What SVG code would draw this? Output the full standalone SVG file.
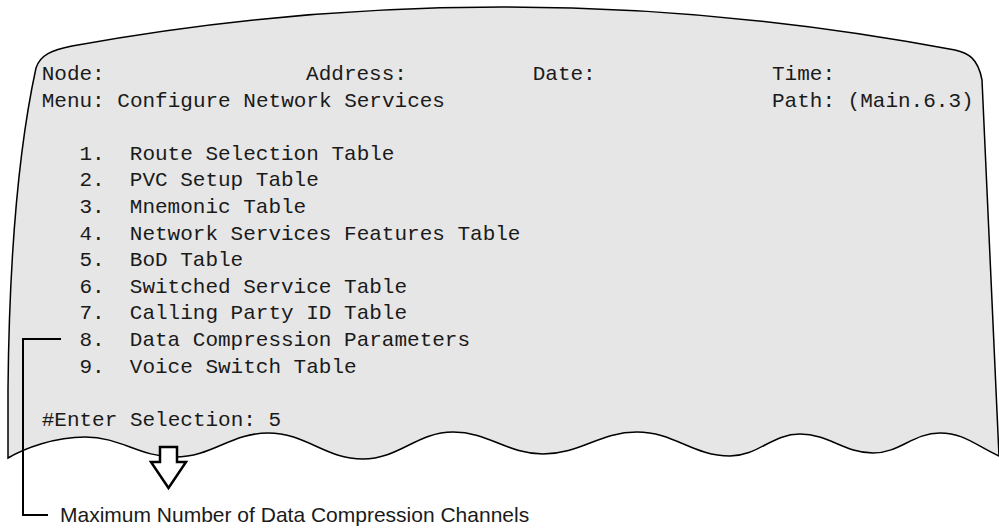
<svg xmlns="http://www.w3.org/2000/svg" width="999" height="529" viewBox="0 0 999 529">
  <style>
    .mono { font-family: "Liberation Mono", "Courier New", monospace; font-size: 21px; fill: #1a1a1a; }
    .sans { font-family: "Liberation Sans", Arial, sans-serif; font-size: 21px; fill: #1a1a1a; }
    .panel { fill: #e6e6e6; stroke: #000; stroke-width: 1.5; }
    .conn { fill: none; stroke: #000; stroke-width: 2; }
    .arrow { fill: #fff; stroke: #000; stroke-width: 2.5; stroke-linejoin: miter; }
  </style>
  <rect width="999" height="529" fill="#fff"/>
  <g id="screen">
    <path class="panel" d="M 8,458 L 8,390 C 9,280 16,160 36,68 C 40,55 52,50 72,46 Q 512,-34 955,50 C 968,53 978,58 982,80 L 999,456 C 975,445 964,433 940,433 C 913,433 900,453 873,453 C 844,453 829,434 800,434 C 772,434 758,456 730,456 C 693,456 674,432 637,432 C 599,432 581,454 543,454 C 507,454 489,432 453,432 C 417,432 399,459 363,459 C 325,459 306,433 268,433 C 231,433 212,457 175,457 C 139,457 121,437 85,437 C 55,437 25,448 8,458 Z"/>
    <text class="mono" x="41.7" y="80">Node:</text>
    <text class="mono" x="306.1" y="80">Address:</text>
    <text class="mono" x="532.7" y="80">Date:</text>
    <text class="mono" x="772" y="80">Time:</text>
    <text class="mono" x="41.7" y="106.6">Menu: Configure Network Services</text>
    <text class="mono" x="772" y="106.6">Path: (Main.6.3)</text>
    <text class="mono" x="79.5" y="159.8">1.</text>
    <text class="mono" x="129.8" y="159.8">Route Selection Table</text>
    <text class="mono" x="79.5" y="186.4">2.</text>
    <text class="mono" x="129.8" y="186.4">PVC Setup Table</text>
    <text class="mono" x="79.5" y="213">3.</text>
    <text class="mono" x="129.8" y="213">Mnemonic Table</text>
    <text class="mono" x="79.5" y="239.6">4.</text>
    <text class="mono" x="129.8" y="239.6">Network Services Features Table</text>
    <text class="mono" x="79.5" y="266.2">5.</text>
    <text class="mono" x="129.8" y="266.2">BoD Table</text>
    <text class="mono" x="79.5" y="292.8">6.</text>
    <text class="mono" x="129.8" y="292.8">Switched Service Table</text>
    <text class="mono" x="79.5" y="319.4">7.</text>
    <text class="mono" x="129.8" y="319.4">Calling Party ID Table</text>
    <text class="mono" x="79.5" y="346">8.</text>
    <text class="mono" x="129.8" y="346">Data Compression Parameters</text>
    <text class="mono" x="79.5" y="372.6">9.</text>
    <text class="mono" x="129.8" y="372.6">Voice Switch Table</text>
    <text class="mono" x="41.7" y="425.8">#Enter Selection: 5</text>
  </g>
  <g id="arrow">
    <polygon class="arrow" points="160,447 177,447 177,462 186,462 168.5,488 151,462 160,462"/>
  </g>
  <g id="connectors">
    <path class="conn" d="M 61,339 H 23 V 515 H 48"/>
  </g>
  <g id="label">
    <text class="sans" x="60" y="522">Maximum Number of Data Compression Channels</text>
  </g>
</svg>
